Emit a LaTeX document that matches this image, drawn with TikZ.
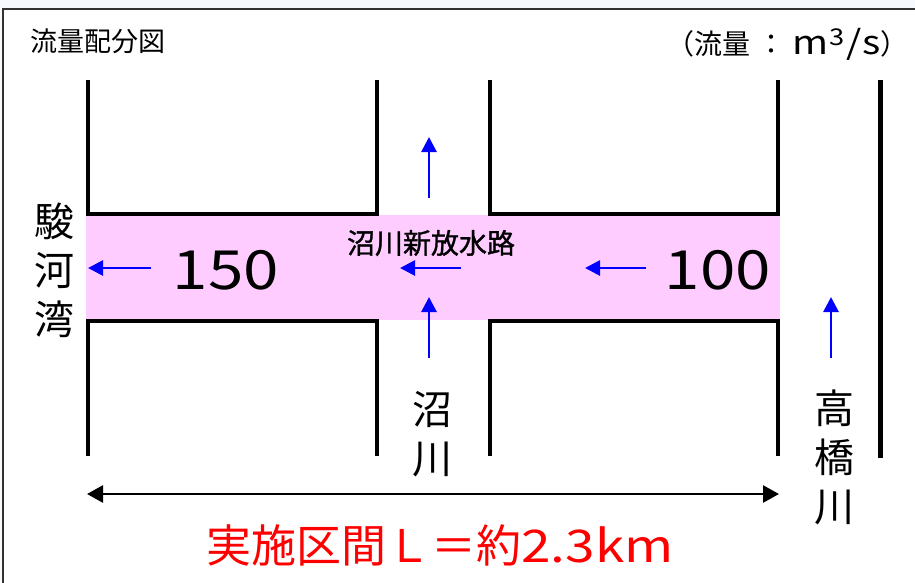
\documentclass[tikz,border=0pt]{standalone}
\usepackage{fontspec}
\setmainfont{Noto Sans CJK JP}
\newfontfamily\widefont[FakeStretch=1.18]{Noto Sans CJK JP}
\newfontfamily\heavyfont[FakeBold=1.2]{Noto Sans CJK JP}
\usetikzlibrary{arrows.meta}
\definecolor{bandpink}{RGB}{255,204,255}
\definecolor{framegray}{RGB}{50,50,50}
\definecolor{paper}{RGB}{246,250,255}

\begin{document}
\begin{tikzpicture}[x=1pt, y=-1pt,
    wall/.style={line width=4pt},
    flow/.style={blue, line width=2.8pt, -{Triangle[length=15pt,width=15pt]}},
    span/.style={line width=2.6pt, {Triangle[length=16pt,width=17pt]}-{Triangle[length=16pt,width=17pt]}},
    vlabel/.style={inner sep=0pt, align=center, font=\fontsize{40}{49}\selectfont},
    qlabel/.style={inner sep=0pt, font=\widefont\fontsize{54}{60}\selectfont}]
    \useasboundingbox (0,0) rectangle (915,582);
    \fill[paper] (0,0) rectangle (915,582);
    \fill[white] (3,9) rectangle (915,582);
    \draw[framegray, line width=2pt] (3,590) -- (3,9) -- (920,9);

    \fill[bandpink] (86,215) rectangle (780,320);
    \foreach \xa/\xb in {88/377, 490/778} {
        \draw[wall] (\xa,80) |- (\xb,214) -- (\xb,80);
        \draw[wall] (\xa,456) |- (\xb,321) -- (\xb,456);
    }
    \draw[line width=5pt] (880,80) -- (880,458);

    \node[inner sep=0pt, font=\fontsize{27}{30}\selectfont] (title) at (98,41) {流量配分図};
    \node[inner sep=0pt, anchor=east, font=\fontsize{28}{30}\selectfont] (unit) at (909,44)
        {（流量\hspace{7pt}：\hspace{7pt}{\widefont\fontsize{33}{33}\selectfont m\hspace{1pt}\textsuperscript{3}\hspace{1pt}/\hspace{1pt}s}）};

    \node[qlabel] (q150) at (226,270) {150};
    \node[qlabel] (q100) at (718,270) {100};
    \node[inner sep=0pt, font=\heavyfont\fontsize{28}{32}\selectfont] (canal) at (431,243) {沼川新放水路};

    \node[vlabel] (bay) at (54,270) {駿\\河\\湾};
    \node[vlabel] (numa) at (432,434) {沼\\川};
    \node[vlabel] (taka) at (834,457) {高\\橋\\川};

    \coordinate (outTip) at (88,268);   \coordinate (outTail) at (151,268);
    \coordinate (midTip) at (400,268);  \coordinate (midTail) at (461,268);
    \coordinate (inTip) at (585,268);   \coordinate (inTail) at (646,268);
    \coordinate (upTip) at (429,137);   \coordinate (upTail) at (429,198);
    \coordinate (numaTip) at (429,297); \coordinate (numaTail) at (429,358);
    \coordinate (takaTip) at (831,297); \coordinate (takaTail) at (831,358);
    \foreach \f in {out, mid, in, up, numa, taka} {
        \draw[flow] (\f Tail) -- (\f Tip);
    }

    \coordinate (spanL) at (87,494);
    \coordinate (spanR) at (779,494);
    \draw[span] (spanL) -- (spanR);
    \node[inner sep=0pt, red, font=\fontsize{45}{50}\selectfont] (length) at (440,545)
        {実施区間Ｌ＝約{\widefont 2.3km}};
\end{tikzpicture}
\end{document}
